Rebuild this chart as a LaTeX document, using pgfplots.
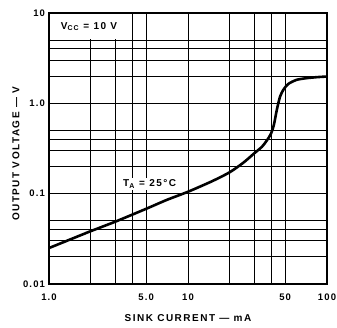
\documentclass[border=0pt]{standalone}
\usepackage{pgfplots}
\pgfplotsset{compat=1.18}
\usepackage{fontspec}
\setmainfont{Liberation Sans}
\newfontfamily\lblfont{Liberation Sans}[LetterSpace=15]
\newfontfamily\tickfont{Liberation Sans}[LetterSpace=12]
\begin{document}
\begin{tikzpicture}
\begin{axis}[
  scale only axis, width=278pt, height=271pt,
  xmode=log, ymode=log,
  xmin=1, xmax=100, ymin=0.01, ymax=10,
  xtick={1,5,10,50,100}, xticklabels={1.0,5.0,10,50,100},
  ytick={0.01,0.1,1,10}, yticklabels={0.01,0.1,1.0,10},
  minor xtick={2,3,4,20,30,40},
  minor ytick={0.02,0.03,0.04,0.05,0.2,0.3,0.4,0.5,2,3,4,5},
  grid=both,
  major grid style={black, line width=1pt},
  minor grid style={black, line width=1pt},
  major tick length=0pt, minor tick length=0pt,
  axis line style={black, line width=1.4pt},
  /pgf/number format/assume math mode=true,
  ticklabel style={font=\tickfont\bfseries\fontsize{9.5}{11}\selectfont},
  xticklabel style={yshift=-6pt},
  yticklabel style={xshift=-0.5pt},
  xlabel={SINK CURRENT — mA},
  ylabel={OUTPUT VOLTAGE — V},
  every axis x label/.style={at={(axis description cs:0.5,-0.1255)}, anchor=center, font=\lblfont\bfseries\fontsize{10}{12}\selectfont},
  every axis y label/.style={at={(axis description cs:-0.1187,0.48)}, anchor=center, rotate=90, font=\lblfont\bfseries\fontsize{10}{12}\selectfont},
  clip=false,
]
\addplot[black, line width=2.6pt, smooth, tension=0.45] coordinates {
(1,0.025) (1.5,0.0322) (2,0.0385) (3,0.049) (5,0.068) (7,0.085) (10,0.105)
(15,0.138) (20,0.173) (25,0.22) (30,0.28) (34,0.33) (37,0.39) (39.5,0.46)
(41.5,0.58) (43.5,0.84) (45.9,1.18) (48.5,1.41) (52.7,1.64) (60.5,1.82)
(71.4,1.90) (85,1.95) (100,1.98)
};
\node[fill=white, anchor=north west, minimum width=78pt, minimum height=25pt, inner sep=0pt, xshift=0.8pt, yshift=-0.8pt,
  font=\lblfont\bfseries\fontsize{10}{12}\selectfont] at (rel axis cs:0,1) {V\textsubscript{CC} = 10 V};
\node[fill=white, inner sep=1.5pt, font=\lblfont\bfseries\fontsize{10}{12}\selectfont] at (axis cs:5.3,0.128) {T\textsubscript{A} = 25\textdegree C};
\end{axis}
\pgfresetboundingbox
\path (current axis.south west) ++(-49pt,-44pt) rectangle ++(337pt,328pt);
\end{tikzpicture}
\end{document}
